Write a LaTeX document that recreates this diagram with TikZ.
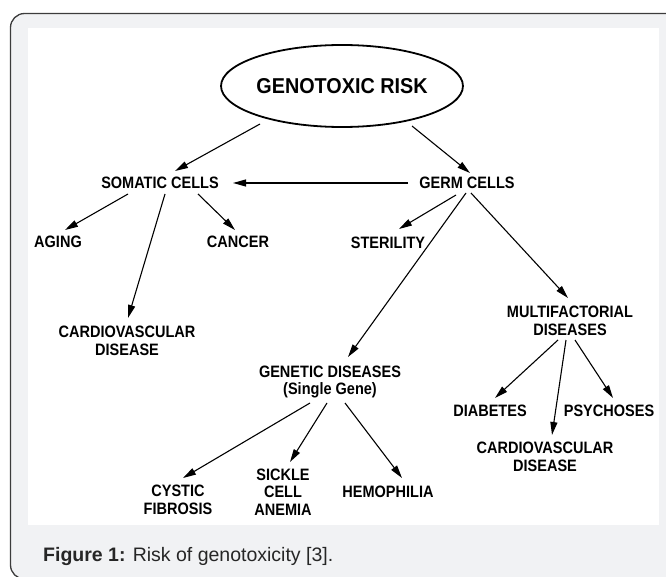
\documentclass[tikz,border=0pt]{standalone}
\usepackage{fontspec}
\setmainfont{Liberation Sans}
\newfontfamily\diagfont[FakeStretch=0.88]{Liberation Sans}
\newfontfamily\titlefont[FakeStretch=0.92]{Liberation Sans}
\usetikzlibrary{arrows.meta,calc,shapes.geometric}
\definecolor{pagegray}{HTML}{F1F2F4}
\definecolor{framecol}{HTML}{3C3C3C}
\definecolor{captcol}{HTML}{262626}
\begin{document}
\begin{tikzpicture}[x=1pt,y=-1pt,
  lbl/.style={font=\diagfont\bfseries\fontsize{16.5}{17.5}\selectfont, align=center, inner sep=0pt, text=black},
  arr/.style={line width=1.1pt, draw=black, -{Triangle[length=13pt,width=7pt]}},
]
\useasboundingbox (0,0) rectangle (666,577);
\begin{scope}
\clip (0,0) rectangle (666,577);
\draw[framecol, line width=1.3pt, fill=pagegray, rounded corners=14pt] (10.5,13.5) rectangle (690,579);
\end{scope}
\fill[white] (28,28) rectangle (659,525);

% nodes
\node[ellipse, draw=black, line width=1.8pt, minimum width=238pt, minimum height=82pt, inner sep=0pt,
      font=\titlefont\bfseries\fontsize{21.5}{24}\selectfont] (risk) at (342,86) {GENOTOXIC RISK};
\node[lbl] (som) at (160,183) {SOMATIC CELLS};
\node[lbl] (germ) at (467,183) {GERM CELLS};
\node[lbl] (aging) at (58,242) {AGING};
\node[lbl] (cancer) at (238,242) {CANCER};
\node[lbl] (ster) at (388,243) {STERILITY};
\node[lbl] (cardL) at (127,341) {CARDIOVASCULAR\\DISEASE};
\node[lbl] (multi) at (570,321) {MULTIFACTORIAL\\DISEASES};
\node[lbl] (gen) at (330,382) {GENETIC DISEASES\\(Single Gene)};
\node[lbl] (diab) at (490,411) {DIABETES};
\node[lbl] (psy) at (609,411) {PSYCHOSES};
\node[lbl] (cardR) at (545,457) {CARDIOVASCULAR\\DISEASE};
\node[lbl] (cyst) at (178,500) {CYSTIC\\FIBROSIS};
\node[lbl] (sick) at (283,492) {SICKLE\\CELL\\ANEMIA};
\node[lbl] (hemo) at (388,492) {HEMOPHILIA};

% connectors
\draw[arr] ($(risk.center)+(-82,38)$) -- ($(som.center)+(15,-12)$);
\draw[arr] ($(risk.center)+(70,40)$) -- ($(germ.center)+(3,-10)$);
\draw[arr] ($(germ.center)+(-59,0)$) -- ($(som.center)+(73,0)$);
\draw[arr] ($(som.center)+(-32,11)$) -- ($(aging.center)+(7,-12)$);
\draw[arr] ($(som.center)+(38,11)$) -- ($(cancer.center)+(-3,-12)$);
\draw[arr] ($(som.center)+(5,11)$) -- ($(cardL.center)+(1,-23)$);
\draw[arr] ($(germ.center)+(-11,12)$) -- ($(ster.center)+(11,-14)$);
\draw[arr] ($(germ.center)+(-1,10)$) -- ($(gen.center)+(18,-25)$);
\draw[arr] ($(germ.center)+(4,10)$) -- ($(multi.center)+(-2,-23)$);
\draw[arr] ($(gen.center)+(-20,21)$) -- ($(cyst.center)+(5,-22)$);
\draw[arr] ($(gen.center)+(-3,21)$) -- ($(sick.center)+(7,-30)$);
\draw[arr] ($(gen.center)+(15,21)$) -- ($(hemo.center)+(14,-14)$);
\draw[arr] ($(multi.center)+(-12,19)$) -- ($(diab.center)+(5,-13)$);
\draw[arr] ($(multi.center)+(-4,19)$) -- ($(cardR.center)+(7,-22)$);
\draw[arr] ($(multi.center)+(5,19)$) -- ($(psy.center)+(4,-13)$);

% caption
\node[anchor=base west, inner sep=0pt, text=captcol, font=\fontsize{19.5}{22}\selectfont] (cap) at (43,561)
  {\textbf{Figure 1:} Risk of genotoxicity [3].};
\end{tikzpicture}
\end{document}
